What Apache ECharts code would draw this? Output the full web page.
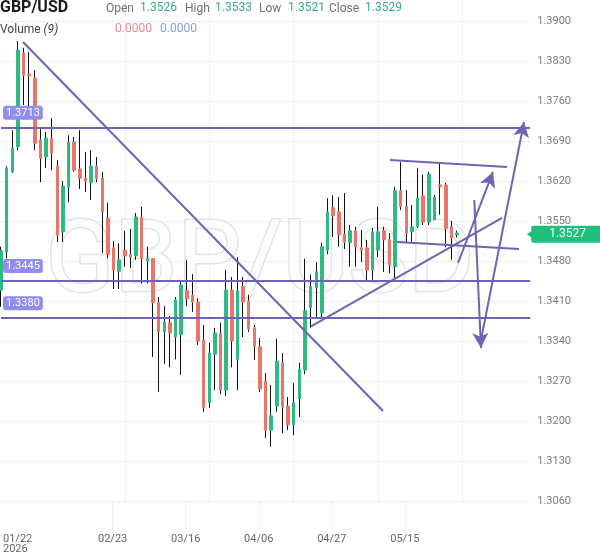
<!DOCTYPE html>
<html>
<head>
<meta charset="utf-8">
<script src="https://cdn.jsdelivr.net/npm/echarts/dist/echarts.min.js"></script>
<style>
  html, body { margin: 0; padding: 0; background: #fff; }
  #chart { width: 600px; height: 558px; }
</style>
</head>
<body>
<div id="chart"></div>
<script>
// daily GBP/USD candles, 01/22 .. 05/15
const opens = [
  1.3429, 1.3496, 1.3636, 1.3680, 1.3844, 1.3807, 1.3800, 1.3692, 1.3662, 1.3694,
  1.3646, 1.3531, 1.3609, 1.3688, 1.3641, 1.3625, 1.3617, 1.3646, 1.3625, 1.3555,
  1.3503, 1.3462, 1.3499, 1.3491, 1.3489, 1.3557, 1.3480, 1.3484, 1.3407, 1.3356,
  1.3372, 1.3347, 1.3351, 1.3428, 1.3420, 1.3408, 1.3342, 1.3232, 1.3317, 1.3354,
  1.3254, 1.3429, 1.3308, 1.3435, 1.3410, 1.3363, 1.3330, 1.3270, 1.3184, 1.3226,
  1.3302, 1.3226, 1.3193, 1.3239, 1.3289, 1.3398, 1.3433, 1.3389, 1.3499, 1.3573,
  1.3566, 1.3527, 1.3512, 1.3533, 1.3503, 1.3503, 1.3464, 1.3499, 1.3533, 1.3517,
  1.3470, 1.3603, 1.3576, 1.3531, 1.3540, 1.3594, 1.3548, 1.3552, 1.3613, 1.3613,
  1.3540, 1.3526
]
const closes = [
  1.3498, 1.3643, 1.3678, 1.3849, 1.3805, 1.3804, 1.3686, 1.3660, 1.3695, 1.3669,
  1.3525, 1.3611, 1.3688, 1.3639, 1.3625, 1.3620, 1.3646, 1.3624, 1.3566, 1.3491,
  1.3464, 1.3482, 1.3489, 1.3487, 1.3557, 1.3484, 1.3484, 1.3407, 1.3356, 1.3373,
  1.3354, 1.3412, 1.3438, 1.3414, 1.3408, 1.3340, 1.3224, 1.3319, 1.3354, 1.3254,
  1.3429, 1.3340, 1.3428, 1.3408, 1.3361, 1.3330, 1.3256, 1.3184, 1.3209, 1.3305,
  1.3224, 1.3193, 1.3232, 1.3291, 1.3393, 1.3435, 1.3461, 1.3505, 1.3566, 1.3559,
  1.3526, 1.3513, 1.3533, 1.3505, 1.3499, 1.3464, 1.3531, 1.3531, 1.3517, 1.3473,
  1.3603, 1.3575, 1.3529, 1.3540, 1.3590, 1.3548, 1.3632, 1.3592, 1.3610, 1.3537,
  1.3520, 1.3529
]
const highs = [
  1.3505, 1.3646, 1.3709, 1.3865, 1.3853, 1.3846, 1.3814, 1.3713, 1.3706, 1.3730,
  1.3657, 1.3620, 1.3700, 1.3697, 1.3709, 1.3671, 1.3674, 1.3662, 1.3636, 1.3582,
  1.3515, 1.3511, 1.3533, 1.3536, 1.3564, 1.3575, 1.3505, 1.3485, 1.3417, 1.3401,
  1.3384, 1.3417, 1.3447, 1.3482, 1.3457, 1.3415, 1.3368, 1.3337, 1.3363, 1.3372,
  1.3464, 1.3452, 1.3487, 1.3452, 1.3421, 1.3368, 1.3345, 1.3284, 1.3263, 1.3344,
  1.3319, 1.3242, 1.3266, 1.3302, 1.3484, 1.3456, 1.3478, 1.3512, 1.3590, 1.3595,
  1.3592, 1.3599, 1.3543, 1.3540, 1.3534, 1.3517, 1.3538, 1.3575, 1.3540, 1.3529,
  1.3610, 1.3653, 1.3604, 1.3578, 1.3643, 1.3631, 1.3636, 1.3596, 1.3652, 1.3617,
  1.3550, 1.3533
]
const lows = [
  1.3400, 1.3485, 1.3634, 1.3674, 1.3753, 1.3739, 1.3674, 1.3618, 1.3643, 1.3639,
  1.3513, 1.3513, 1.3583, 1.3636, 1.3606, 1.3601, 1.3587, 1.3618, 1.3494, 1.3485,
  1.3431, 1.3431, 1.3470, 1.3468, 1.3482, 1.3441, 1.3441, 1.3312, 1.3251, 1.3300,
  1.3294, 1.3308, 1.3281, 1.3401, 1.3391, 1.3333, 1.3216, 1.3223, 1.3254, 1.3247,
  1.3244, 1.3294, 1.3254, 1.3347, 1.3356, 1.3307, 1.3251, 1.3170, 1.3155, 1.3216,
  1.3179, 1.3184, 1.3175, 1.3207, 1.3282, 1.3363, 1.3380, 1.3380, 1.3492, 1.3522,
  1.3505, 1.3501, 1.3470, 1.3470, 1.3478, 1.3445, 1.3447, 1.3487, 1.3461, 1.3459,
  1.3450, 1.3569, 1.3512, 1.3512, 1.3538, 1.3543, 1.3543, 1.3552, 1.3561, 1.3504,
  1.3482, 1.3521
]

const slotCount = 95 // candle slots, the empty ones leave room on the right
const weekGridIdx = [22, 37, 52, 67, 82]
const yTickLabels = ['1.3060', '1.3130', '1.3200', '1.3270', '1.3340', '1.3410', '1.3480',
  '1.3550', '1.3620', '1.3690', '1.3760', '1.3830', '1.3900']
const dateLabels = ['01/22\n2026', '', '', '02/23', '', '03/16', '', '04/06', '', '04/27', '', '05/15', '', '', '']

// drawn annotations, in [slot, price]
const hLevels = [1.3713, 1.3445, 1.3380]
const trendLines = [
  [[3.91, 1.38633], [67.85, 1.32175]],
  [[55.07, 1.33654], [89.0, 1.35553]],
  [[69.1, 1.36568], [89.88, 1.36445]],
  [[70.34, 1.35133], [92.01, 1.35010]]
]
const arrows = [
  [[81.18, 1.34765], [87.39, 1.36358]],
  [[84.07, 1.35868], [85.26, 1.33278]],
  [[85.08, 1.33330], [92.9, 1.37233]]
]
const lastPrice = 1.3527
const ohlcHeader = ['1.3526', '1.3533', '1.3521', '1.3529']

const up = '#2dbb83'
const down = '#ea7669'
const lineColor = '#6c65b4'
const tagColor = '#908cf0'

const slots = Array.from({ length: slotCount }, (_, i) => i)
const wicks = opens.map((o, i) => [lows[i], lows[i], lows[i], highs[i]])
const bodies = opens.map((o, i) => [o, closes[i], Math.min(o, closes[i]), Math.max(o, closes[i])])

const mlData = []
hLevels.forEach(v => {
  mlData.push([
    {
      coord: [0, v],
      symbol: 'none',
      label: {
        show: true,
        position: 'insideStartTop',
        distance: [2, 8],
        formatter: v.toFixed(4),
        color: '#fff',
        fontSize: 11,
        fontFamily: 'Roboto',
        backgroundColor: tagColor,
        borderRadius: 3,
        padding: [2, 3, 1, 3]
      }
    },
    { coord: [94, v], symbol: 'none' }
  ])
})
trendLines.forEach(l => {
  mlData.push([{ coord: l[0], symbol: 'none' }, { coord: l[1], symbol: 'none' }])
})
arrows.forEach(l => {
  mlData.push([{ coord: l[0], symbol: 'none' }, { coord: l[1], symbol: 'arrow', symbolSize: [12, 15] }])
})
mlData.push([
  {
    coord: [93, lastPrice],
    symbol: 'none',
    lineStyle: { color: 'rgba(0,0,0,0)', width: 0 },
    label: {
      show: true,
      position: 'end',
      distance: 1,
      formatter: lastPrice.toFixed(4),
      color: '#fff',
      fontSize: 12,
      fontFamily: 'Roboto',
      backgroundColor: '#1fc07c',
      borderRadius: 2,
      padding: [3, 18, 2, 18]
    }
  },
  { coord: [94, lastPrice], symbol: 'none' }
])

const headerText = (x, y, text, fill, size, weight) => ({
  type: 'text',
  x: x,
  y: y,
  z: 10,
  style: {
    text: text,
    fill: fill,
    fontSize: size || 12,
    fontWeight: weight || 'normal',
    fontFamily: 'Roboto',
    verticalAlign: 'middle'
  }
})

const chart = echarts.init(document.getElementById('chart'))
chart.setOption({
  animation: false,
  backgroundColor: '#fff',
  grid: [
    { left: 1, right: 69.8, top: 0, bottom: 57 },
    { left: 1, right: 69.8, top: 21, bottom: 57 },
    { left: 0, width: 514.5, top: 501, height: 29 }
  ],
  xAxis: [
    {
      type: 'category',
      gridIndex: 0,
      data: slots,
      boundaryGap: false,
      axisLine: { show: false },
      axisTick: { show: false },
      axisLabel: { show: false },
      splitLine: {
        show: true,
        interval: (i) => weekGridIdx.includes(i),
        lineStyle: { color: '#f0f0f0' }
      }
    },
    { type: 'value', gridIndex: 0, min: 0, max: 94, show: false },
    { type: 'value', gridIndex: 1, min: 0, max: 1, show: false },
    {
      type: 'category',
      gridIndex: 2,
      data: dateLabels,
      boundaryGap: false,
      axisLine: { show: false },
      axisTick: { show: false },
      axisLabel: {
        interval: 0,
        color: '#666',
        fontSize: 11,
        lineHeight: 10,
        margin: 4,
        fontFamily: 'Roboto',
        alignMinLabel: 'left'
      },
      splitLine: {
        show: true,
        interval: (i) => i > 0 && dateLabels[i] !== '',
        lineStyle: { color: '#efefef' }
      }
    }
  ],
  yAxis: [
    { type: 'value', gridIndex: 0, min: 1.306, max: 1.393675, show: false },
    {
      type: 'value',
      gridIndex: 1,
      position: 'right',
      min: 0,
      max: 12,
      interval: 1,
      axisLine: { show: false },
      axisTick: { show: false },
      axisLabel: {
        color: '#7b7b7b',
        fontSize: 11,
        margin: 7,
        fontFamily: 'Roboto',
        formatter: (v) => yTickLabels[Math.round(v)]
      },
      splitLine: { lineStyle: { color: '#eeeeee' } }
    },
    { type: 'value', gridIndex: 2, show: false }
  ],
  graphic: [
    {
      type: 'text',
      x: 260,
      y: 266,
      z: 1,
      silent: true,
      style: {
        text: 'GBP/USD',
        fontSize: 101,
        fontFamily: 'Roboto',
        fill: '#fdfdfd',
        stroke: '#e4e4e4',
        lineWidth: 3,
        align: 'center',
        verticalAlign: 'middle'
      }
    },
    headerText(0, 8, 'GBP/USD', '#1a1a1a', 16, 'bold'),
    headerText(106, 9, 'Open', '#707070'),
    headerText(140, 8, ohlcHeader[0], '#34ad86'),
    headerText(185, 9, 'High', '#707070'),
    headerText(215, 8, ohlcHeader[1], '#34ad86'),
    headerText(259, 9, 'Low', '#707070'),
    headerText(288, 8, ohlcHeader[2], '#34ad86'),
    headerText(329, 9, 'Close', '#707070'),
    headerText(365, 8, ohlcHeader[3], '#34ad86'),
    {
      type: 'text',
      x: 0,
      y: 30,
      z: 10,
      style: {
        text: 'Volume {i|(9)}',
        fill: '#444',
        fontSize: 12,
        fontFamily: 'Roboto',
        verticalAlign: 'middle',
        rich: { i: { fontStyle: 'italic', fontSize: 12, fill: '#444', fontFamily: 'Roboto' } }
      }
    },
    headerText(115, 29, '0.0000', '#e08d8d'),
    headerText(160, 29, '0.0000', '#86a2d8')
  ],
  series: [
    {
      type: 'candlestick',
      name: 'wick',
      xAxisIndex: 0,
      yAxisIndex: 0,
      data: wicks,
      barWidth: 1,
      itemStyle: {
        color: '#111', color0: '#111',
        borderColor: '#111', borderColor0: '#111', borderColorDoji: '#111',
        borderWidth: 1
      }
    },
    {
      type: 'candlestick',
      name: 'GBP/USD',
      xAxisIndex: 0,
      yAxisIndex: 0,
      data: bodies,
      barWidth: 3,
      itemStyle: {
        color: up, color0: down,
        borderColor: up, borderColor0: down, borderColorDoji: down,
        borderWidth: 1
      }
    },
    {
      type: 'line',
      name: 'drawings',
      xAxisIndex: 1,
      yAxisIndex: 0,
      data: [],
      z: 5,
      markLine: {
        silent: true,
        animation: false,
        symbol: 'none',
        label: { show: false },
        lineStyle: { color: lineColor, width: 2, type: 'solid' },
        emphasis: { disabled: true },
        data: mlData
      },
      markPoint: {
        silent: true,
        animation: false,
        label: { show: false },
        data: [{
          coord: [93.85, lastPrice],
          symbol: 'triangle',
          symbolRotate: 90,
          symbolSize: [7, 5],
          itemStyle: { color: '#1fc07c' }
        }]
      }
    }
  ]
})
</script>
</body>
</html>
